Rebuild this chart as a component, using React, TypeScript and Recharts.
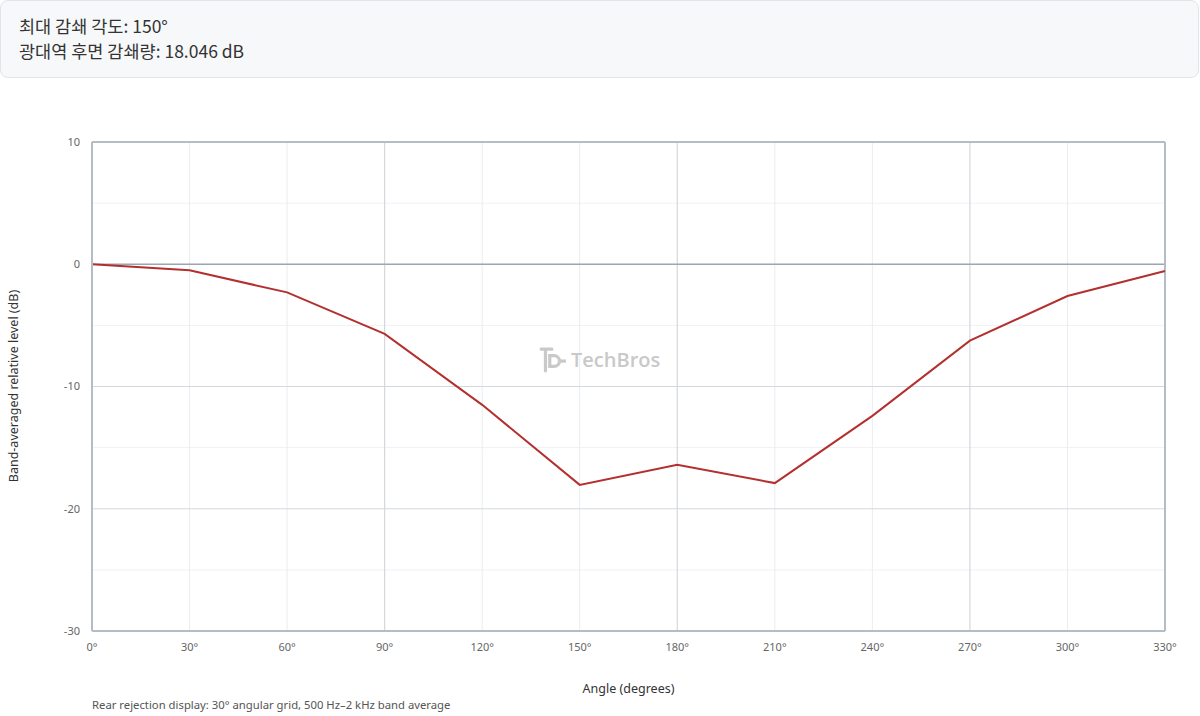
import React from 'react';
import { LineChart, Line, XAxis, YAxis, ReferenceLine } from 'recharts';

const angles = [0, 30, 60, 90, 120, 150, 180, 210, 240, 270, 300, 330];
const levels = [0, -0.5, -2.3, -5.7, -11.5, -18.046, -16.4, -17.9, -12.4, -6.25, -2.6, -0.55];
const xTicks = [0, 30, 60, 90, 120, 150, 180, 210, 240, 270, 300, 330];
const yTicks = [10, 0, -10, -20, -30];
const minorY = [5, -5, -15, -25];
const majorY = [-10, -20];
const minorX = [30, 60, 120, 150, 210, 240, 300];
const majorX = [90, 180, 270];

const data = angles.map((a, i) => ({ angle: a, level: levels[i] }));

const FONT = '"Segoe UI", "Noto Sans", "Noto Sans CJK KR", sans-serif';
const BORDER = '#b4bcc5';

export default function App() {
  return (
    <div style={{ position: 'absolute', left: 0, top: 0, width: 1200, height: 716, background: '#fff', fontFamily: FONT, overflow: 'hidden' }}>
      <div style={{ position: 'absolute', left: 0, top: 0 }}>
        <LineChart width={1200} height={716} data={data} margin={{ top: 142, right: 35, left: 0, bottom: 0 }}>
          {minorY.map((v) => (
            <ReferenceLine key={'my' + v} y={v} stroke="#eef1f4" strokeWidth={1} />
          ))}
          {minorX.map((v) => (
            <ReferenceLine key={'mx' + v} x={v} stroke="#e9edf1" strokeWidth={1} />
          ))}
          {majorY.map((v) => (
            <ReferenceLine key={'My' + v} y={v} stroke="#d3d8de" strokeWidth={1} />
          ))}
          {majorX.map((v) => (
            <ReferenceLine key={'Mx' + v} x={v} stroke="#d3d8de" strokeWidth={1.2} />
          ))}
          <ReferenceLine y={0} stroke="#9ba6b1" strokeWidth={1.5} />
          <ReferenceLine y={10} stroke={BORDER} strokeWidth={2} />
          <ReferenceLine x={330} stroke={BORDER} strokeWidth={2} />
          <XAxis
            dataKey="angle"
            type="number"
            domain={[0, 330]}
            ticks={xTicks}
            tickFormatter={(v) => `${v}°`}
            height={85}
            tickLine={false}
            tickMargin={6}
            axisLine={{ stroke: BORDER, strokeWidth: 2 }}
            tick={{ fontSize: 11, fill: '#666', fontFamily: FONT }}
            interval={0}
          />
          <YAxis
            type="number"
            domain={[-30, 10]}
            ticks={yTicks}
            width={92}
            tickLine={false}
            tickMargin={6}
            axisLine={{ stroke: BORDER, strokeWidth: 2 }}
            tick={{ fontSize: 11, fill: '#666', fontFamily: FONT }}
            interval={0}
          />
          <Line
            type="linear"
            dataKey="level"
            stroke="#b3302f"
            strokeWidth={2}
            dot={false}
            activeDot={false}
            isAnimationActive={false}
          />
        </LineChart>
      </div>

      <div style={{ position: 'absolute', left: 539, top: 346, display: 'flex', alignItems: 'center', color: '#c9c9c9', fontSize: 20, fontFamily: '"Open Sans", sans-serif', fontWeight: 600, pointerEvents: 'none' }}>
        <svg width="28" height="26" viewBox="0 0 26 24" style={{ marginRight: 4 }}>
          <path d="M2 2 H12 M6 2 V22" stroke="#c9c9c9" strokeWidth="3" fill="none" strokeLinecap="round" />
          <path d="M10 8 H14 a5 5 0 0 1 0 10 H10 Z" stroke="#c9c9c9" strokeWidth="3" fill="none" />
          <path d="M19 13 H25" stroke="#c9c9c9" strokeWidth="3" />
        </svg>
        <span>TechBros</span>
      </div>

      <div style={{ position: 'absolute', left: 0, top: 0, width: 1199, height: 78, background: '#f7f8fa', border: '1px solid #e1e4e8', borderRadius: 8, boxSizing: 'border-box' }}>
        <div style={{ position: 'absolute', left: 18, top: 12, fontSize: 17.5, lineHeight: '25px', color: '#333', fontFamily: '"Noto Sans CJK KR", "Noto Sans", sans-serif' }}>
          <div>최대 감쇄 각도: 150°</div>
          <div>광대역 후면 감쇄량: 18.046 dB</div>
        </div>
      </div>

      <div style={{ position: 'absolute', left: 92, width: 1073, top: 680, textAlign: 'center', fontSize: 12.5, color: '#333', lineHeight: '18px' }}>
        Angle (degrees)
      </div>
      <div style={{ position: 'absolute', left: 14 - 150, top: 386 - 9, width: 300, textAlign: 'center', fontSize: 12.5, color: '#333', lineHeight: '18px', transform: 'rotate(-90deg)' }}>
        Band-averaged relative level (dB)
      </div>
      <div style={{ position: 'absolute', left: 92, top: 697, fontSize: 11.3, color: '#555', lineHeight: '16px' }}>
        Rear rejection display: 30° angular grid, 500 Hz–2 kHz band average
      </div>
    </div>
  );
}
